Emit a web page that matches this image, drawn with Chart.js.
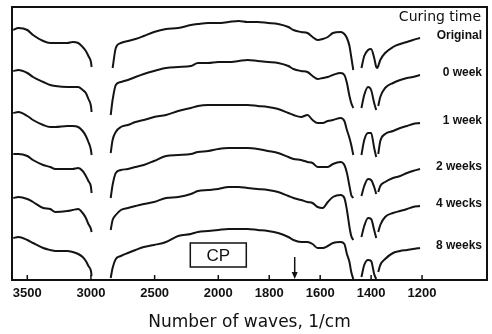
<!DOCTYPE html>
<html>
<head>
<meta charset="utf-8">
<script src="https://cdn.jsdelivr.net/npm/chart.js@4"></script>
<style>
  html, body { margin: 0; padding: 0; background: #fff; }
  #wrap { width: 492px; height: 334px; }
</style>
</head>
<body>
<div id="wrap"><canvas id="irChart" width="492" height="334"></canvas></div>
<script>
// wavenumbers (1/cm), null rows are the breaks in the traces
const wavenumbers = [3610, 3570, 3500, 3455, 3375, 3320, 3280, 3185, 3145, 3100, 3065, 3040, 3020, 3000, 2995,
  2920,
  2845, 2830, 2805, 2765, 2710, 2650, 2585, 2505, 2410, 2315, 2215, 2160, 2080, 2000, 1960, 1920, 1885, 1845,
  1805, 1765, 1725, 1705, 1675, 1650, 1630, 1610, 1590, 1570, 1550, 1520, 1505, 1495, 1485, 1478, 1470,
  1450,
  1438, 1427, 1412, 1400, 1388, 1380,
  1376,
  1372, 1364, 1345, 1314, 1286, 1259, 1236, 1208];

// stacked traces (height above the bottom axis, arbitrary units)
const original = [250, 252, 250, 245, 239, 237, 237, 237, 238, 237, 233, 229, 224, 218, 213,
  null,
  null, 212, 232, 237, 239, 241, 244, 248, 251, 252, 255, 256, 257, 257, 258, 259, 258, 258,
  257, 256, 253, 250, 248, 247, 243, 240, 241, 243, 247, 248, 246, 242, 234, 223, 210,
  null,
  212, 224, 230, 231, 222, 213,
  212,
  214, 220, 227, 233, 236, 238, 240, 242];
const week0 = [209, 210, 207, 203, 198, 195, 194, 193, 193, 193, 190, 187, 181, 174, 168,
  null,
  165, 180, 195, 198, 200, 203, 206, 209, 212, 213, 214, 217, 217, 218, 218, 219, 220, 219,
  218, 217, 214, 211, 209, 208, 204, 201, 202, 203, 205, 207, 205, 197, 184, 177, 172,
  null,
  172, 185, 193, 190, 177, 170,
  null,
  174, 183, 192, 197, 200, 202, 203, 205];
const week1 = [167, 168, 164, 160, 155, 153, 153, 154, 154, 153, 149, 144, 138, 130, 125,
  null,
  127, 140, 148, 153, 155, 158, 160, 163, 165, 169, 172, 174, 175, 175, 175, 175, 175, 174,
  173, 171, 167, 165, 163, 165, 160, 157, 157, 159, 160, 162, 159, 150, 142, 135, 125,
  null,
  125, 140, 147, 147, 132, 123,
  null,
  126, 139, 146, 149, 152, 154, 156, 157];
const weeks2 = [126, 126, 124, 120, 115, 113, 111, 111, 111, 112, 109, 104, 99, 93, 87,
  null,
  82, 95, 107, 110, 111, 113, 115, 119, 124, 125, 126, 128, 129, 131, 132, 132, 132, 131,
  129, 127, 123, 121, 120, 118, 117, 113, 113, 113, 116, 118, 115, 107, 94, 85, 82,
  null,
  84, 94, 101, 100, 93, 86,
  null,
  88, 94, 98, 102, 104, 107, 109, 111];
const weeks4 = [82, 83, 81, 78, 72, 71, 68, 69, 70, 71, 67, 62, 56, 51, 48,
  null,
  50, 60, 65, 70, 72, 74, 76, 78, 82, 83, 86, 89, 90, 91, 93, 93, 92, 91,
  90, 88, 84, 82, 80, 78, 77, 73, 72, 78, 83, 85, 82, 70, 53, 44, 40,
  null,
  43, 54, 62, 61, 50, 42,
  null,
  48, 55, 63, 67, 69, 71, 73, 74];
const weeks8 = [42, 43, 40, 37, 32, 30, 29, 29, 28, 26, 23, 19, 14, 9, 4,
  null,
  2, 12, 21, 24, 27, 30, 33, 35, 38, 44, 46, 48, 49, 50, 51, 51, 51, 50,
  49, 47, 43, 40, 38, 38, 36, 32, 32, 34, 37, 38, 36, 26, 18, 8, 1,
  null,
  3, 15, 20, 19, 6, 1,
  null,
  8, 15, 21, 27, 29, 30, 31, 32];

const seriesLabels = ["Original", "0 week", "1 week", "2 weeks", "4 wecks", "8 weeks"];
const seriesValues = [original, week0, week1, weeks2, weeks4, weeks8];
const tickWavenumbers = [3500, 3000, 2500, 2000, 1800, 1600, 1400, 1200];
const tickLabels = ["3500", "3000", "2500", "2000", "1800", "1600", "1400", "1200"];
const legendTitle = "Curing time";
const boxText = "CP";
const boxAt = 2000;
const arrowAt = 1700;

// IR chart paper: scale doubles below 2000 1/cm
const toAxis = w => (w >= 2000 ? 4000 - w : 6000 - 2 * w);

const datasets = seriesValues.map((vals, i) => ({
  label: seriesLabels[i],
  data: wavenumbers.map((w, j) => ({ x: toAxis(w), y: vals[j] })),
  borderColor: "#141414",
  borderWidth: 2,
  pointRadius: 0,
  spanGaps: false,
  cubicInterpolationMode: "monotone",
  fill: false
}));

const decorations = {
  id: "decorations",
  afterDraw(chart) {
    const { ctx, chartArea: a, scales: { x, y } } = chart;
    ctx.save();
    ctx.strokeStyle = "#111";
    ctx.fillStyle = "#111";

    // frame
    ctx.lineWidth = 2;
    ctx.strokeRect(a.left, a.top, a.right - a.left, a.bottom - a.top);

    // inward ticks
    ctx.lineWidth = 1.5;
    tickWavenumbers.forEach(w => {
      const px = x.getPixelForValue(toAxis(w));
      ctx.beginPath();
      ctx.moveTo(px, a.bottom);
      ctx.lineTo(px, a.bottom - 5);
      ctx.stroke();
    });

    // legend title and trace labels
    ctx.textAlign = "right";
    ctx.textBaseline = "middle";
    ctx.font = "14px 'DejaVu Sans'";
    ctx.fillText(legendTitle, a.right - 6, 17);
    ctx.font = "bold 12px 'Liberation Sans'";
    chart.data.datasets.forEach((ds, i) => {
      const pts = chart.getDatasetMeta(i).data;
      const last = pts[pts.length - 1];
      ctx.fillText(ds.label, a.right - 5, last.y - 2);
    });

    // CP box
    const bx = x.getPixelForValue(toAxis(boxAt));
    const by = y.getPixelForValue(25);
    ctx.lineWidth = 1.5;
    ctx.strokeRect(bx - 28, by - 12, 56, 24);
    ctx.textAlign = "center";
    ctx.font = "17px 'Liberation Sans'";
    ctx.fillText(boxText, bx, by + 1);

    // arrow
    const ax = x.getPixelForValue(toAxis(arrowAt));
    const top = y.getPixelForValue(23);
    const tip = y.getPixelForValue(1);
    ctx.lineWidth = 1.5;
    ctx.beginPath();
    ctx.moveTo(ax, top);
    ctx.lineTo(ax, tip - 5);
    ctx.stroke();
    ctx.beginPath();
    ctx.moveTo(ax - 3, tip - 7);
    ctx.lineTo(ax + 3, tip - 7);
    ctx.lineTo(ax, tip);
    ctx.closePath();
    ctx.fill();
    ctx.restore();
  }
};

new Chart(document.getElementById("irChart"), {
  type: "line",
  data: { datasets },
  options: {
    responsive: false,
    animation: false,
    layout: { padding: { top: 7, left: 12, right: 5, bottom: 0 } },
    plugins: { legend: { display: false }, tooltip: { enabled: false } },
    scales: {
      x: {
        type: "linear",
        min: toAxis(3620),
        max: toAxis(945),
        afterBuildTicks: scale => {
          scale.ticks = tickWavenumbers.map(w => ({ value: toAxis(w) }));
        },
        afterFit: scale => { scale.height = 54; },
        ticks: {
          autoSkip: false,
          maxRotation: 0,
          padding: 6,
          color: "#111",
          font: { family: "'Liberation Sans'", size: 13, weight: "bold" },
          callback: (v, i) => tickLabels[i]
        },
        grid: { display: false, drawTicks: false },
        border: { display: false },
        title: {
          display: true,
          text: "Number of waves, 1/cm",
          color: "#111",
          font: { family: "'DejaVu Sans'", size: 17 },
          padding: { top: 0, bottom: 1 }
        }
      },
      y: {
        display: false,
        min: 0,
        max: 273
      }
    }
  },
  plugins: [decorations]
});
</script>
</body>
</html>
